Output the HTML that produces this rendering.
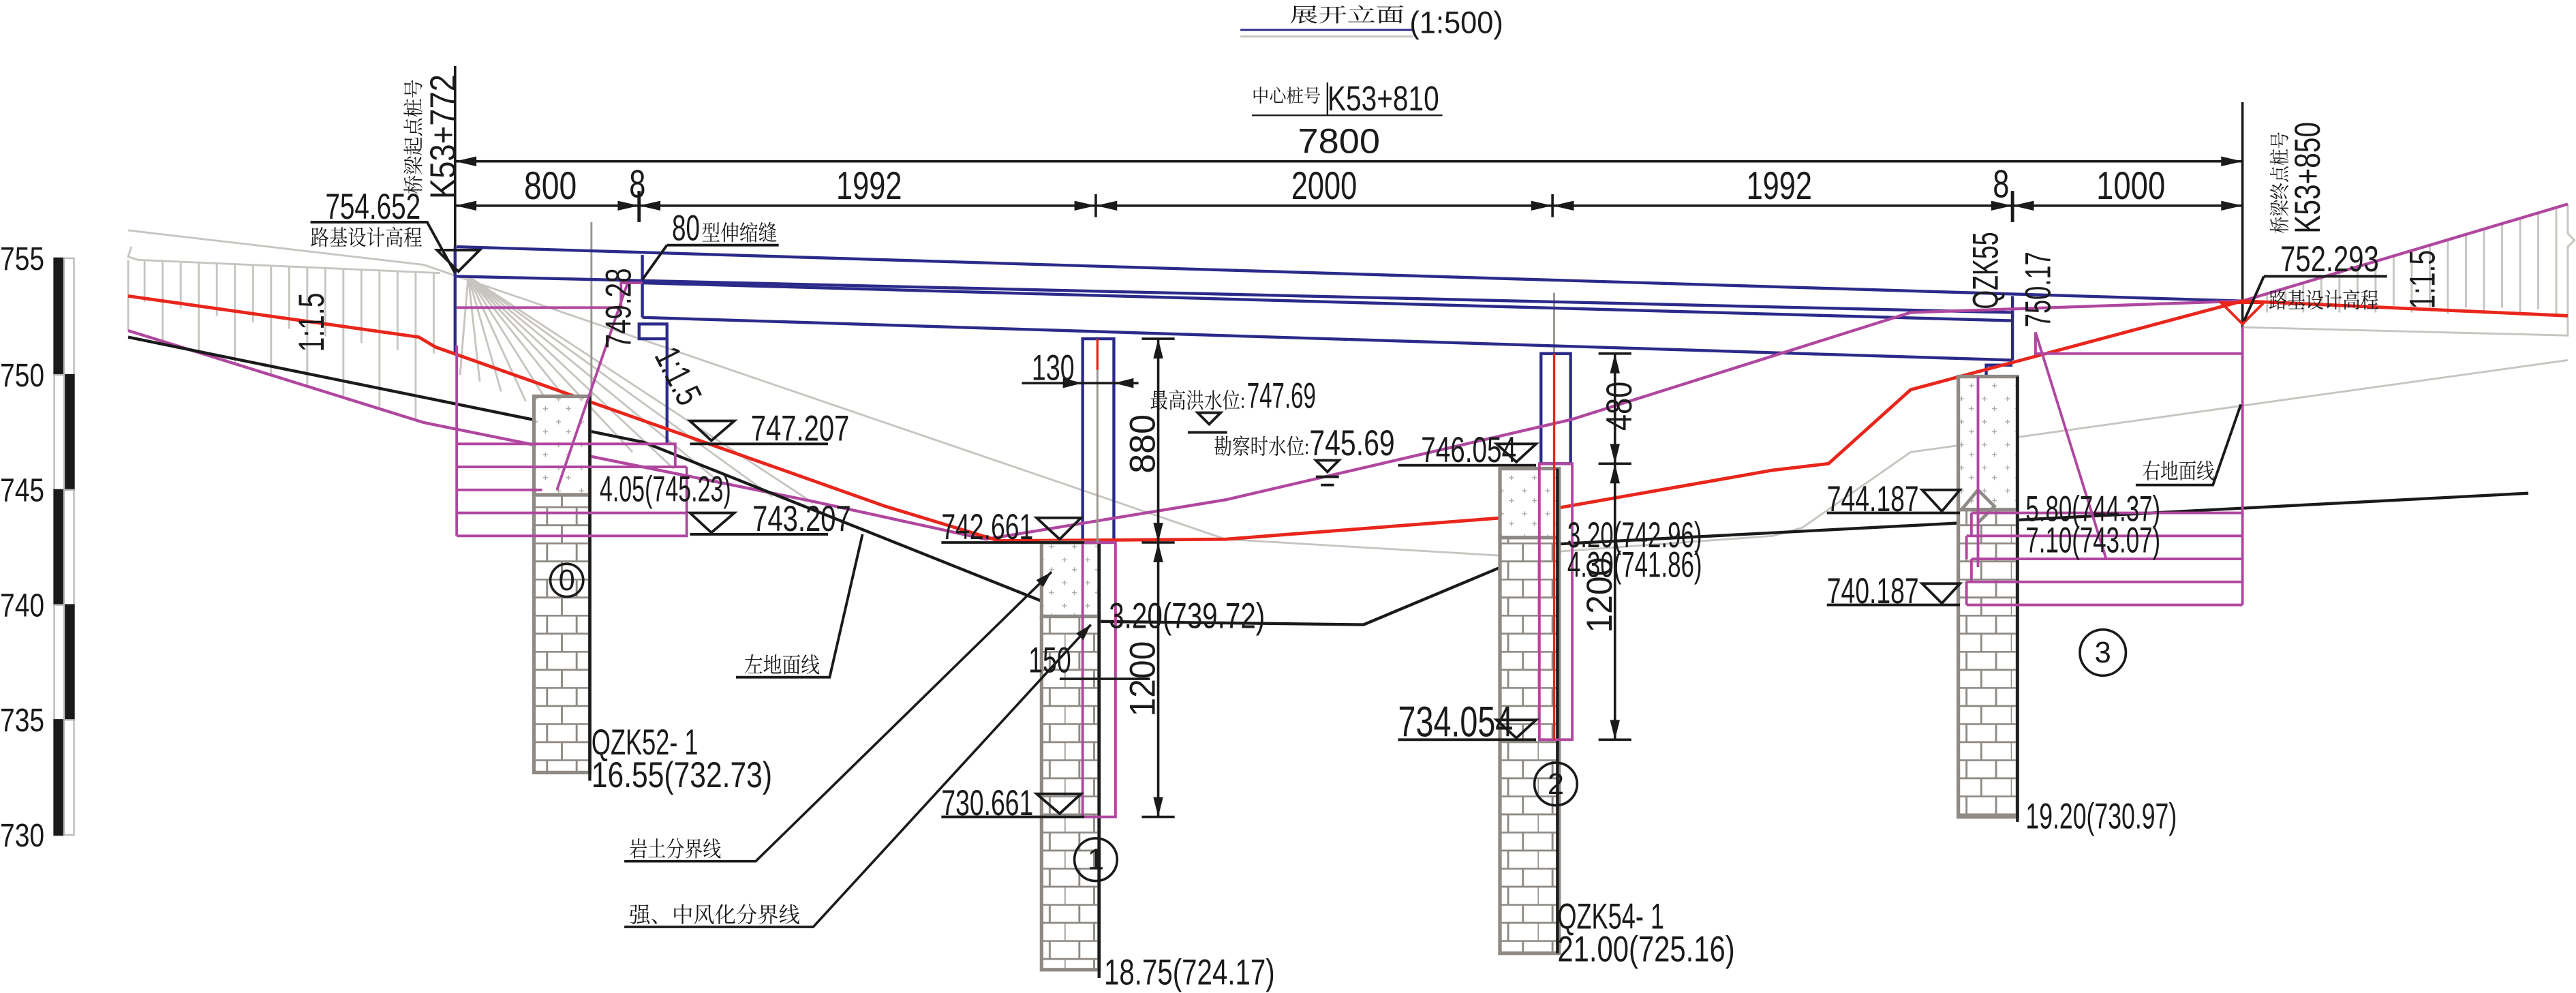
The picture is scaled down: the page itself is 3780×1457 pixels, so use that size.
<!DOCTYPE html>
<html><head><meta charset="utf-8"><style>
html,body{margin:0;padding:0;background:#fff;}
svg{display:block;}
text{font-family:"Liberation Sans","Noto Sans CJK SC",sans-serif;fill:#1a1a1a;}
.cn{font-family:"Liberation Serif","Noto Serif CJK SC",serif;}
</style></head><body>
<svg width="3780" height="1457" viewBox="0 0 1568 604" xmlns="http://www.w3.org/2000/svg">
<defs>
<pattern id="brick" x="0" y="0" width="36" height="22" patternUnits="userSpaceOnUse">
<rect width="36" height="22" fill="#fff"/>
<path d="M0 0.5H36M0 11.5H36M9 0V11M27 0V11M0 11V22M18 11V22" stroke="#8f8a85" stroke-width="1.2" fill="none"/>
</pattern>
<pattern id="grav" x="0" y="0" width="14" height="14" patternUnits="userSpaceOnUse">
<rect width="14" height="14" fill="#fff"/>
<path d="M4 3v3M2.5 4.5h3M10 9v3M8.5 10.5h3" stroke="#b0aaa5" stroke-width="0.6"/>
</pattern>
<marker id="ar" markerWidth="10" markerHeight="6" refX="10" refY="3" orient="auto" markerUnits="userSpaceOnUse"><path d="M0 0L10 3L0 6z" fill="#1a1a1a"/></marker>
</defs>

<!-- title -->
<text class="cn" x="785" y="13" font-size="12" textLength="70" lengthAdjust="spacingAndGlyphs">展开立面</text>
<line x1="755" y1="18" x2="860" y2="18" stroke="#2b2a8a" stroke-width="1.2"/>
<line x1="755" y1="22" x2="860" y2="22" stroke="#c8c5c0" stroke-width="1.2"/>
<text x="858" y="20" font-size="19" textLength="57" lengthAdjust="spacingAndGlyphs">(1:500)</text>

<text class="cn" x="762" y="62" font-size="11" textLength="42" lengthAdjust="spacingAndGlyphs">中心桩号</text>
<text x="808" y="67" font-size="21" textLength="68" lengthAdjust="spacingAndGlyphs">K53+810</text>
<line x1="762" y1="70" x2="878" y2="70" stroke="#1a1a1a" stroke-width="1"/>
<line x1="808" y1="50" x2="808" y2="70" stroke="#1a1a1a" stroke-width="1"/>
<text x="790" y="93" font-size="21" textLength="50" lengthAdjust="spacingAndGlyphs">7800</text>

<!-- scale bar -->
<g stroke="#1a1a1a">
<rect x="33" y="157" width="6" height="71" fill="#1a1a1a"/><rect x="39" y="157" width="6" height="71" fill="#fff" stroke="#bbb"/>
<rect x="39" y="228" width="6" height="70" fill="#1a1a1a"/><rect x="33" y="228" width="6" height="70" fill="#fff" stroke="#bbb"/>
<rect x="33" y="298" width="6" height="70" fill="#1a1a1a"/><rect x="39" y="298" width="6" height="70" fill="#fff" stroke="#bbb"/>
<rect x="39" y="368" width="6" height="70" fill="#1a1a1a"/><rect x="33" y="368" width="6" height="70" fill="#fff" stroke="#bbb"/>
<rect x="33" y="438" width="6" height="70" fill="#1a1a1a"/><rect x="39" y="438" width="6" height="70" fill="#fff" stroke="#bbb"/>
</g>
<g font-size="20">
<text x="0" y="164" textLength="27" lengthAdjust="spacingAndGlyphs">755</text>
<text x="0" y="235" textLength="27" lengthAdjust="spacingAndGlyphs">750</text>
<text x="0" y="305" textLength="27" lengthAdjust="spacingAndGlyphs">745</text>
<text x="0" y="375" textLength="27" lengthAdjust="spacingAndGlyphs">740</text>
<text x="0" y="445" textLength="27" lengthAdjust="spacingAndGlyphs">735</text>
<text x="0" y="515" textLength="27" lengthAdjust="spacingAndGlyphs">730</text>
</g>

<!-- dimension lines -->
<g stroke="#1a1a1a" stroke-width="1.5" fill="none">
<line x1="277" y1="40" x2="277" y2="168"/>
<line x1="1365" y1="62" x2="1365" y2="200"/>
<line x1="277" y1="98" x2="1365" y2="98"/>
<line x1="277" y1="125" x2="1365" y2="125"/>
<line x1="389" y1="116" x2="389" y2="135" stroke-width="2"/>
<line x1="667" y1="118" x2="667" y2="132"/>
<line x1="945" y1="118" x2="945" y2="132"/>
<line x1="1225" y1="116" x2="1225" y2="135" stroke-width="2"/>
</g>
<g fill="#1a1a1a">
<path d="M277 98l13-3v6z"/><path d="M1365 98l-13-3v6z"/>
<path d="M277 125l13-3v6z"/><path d="M389 125l-13-3v6z"/><path d="M389 125l13-3v6z"/>
<path d="M667 125l-13-3v6z"/><path d="M667 125l13-3v6z"/>
<path d="M945 125l-13-3v6z"/><path d="M945 125l13-3v6z"/>
<path d="M1225 125l-13-3v6z"/><path d="M1225 125l13-3v6z"/><path d="M1365 125l-13-3v6z"/>
</g>
<g font-size="24">
<text x="319" y="121" textLength="32" lengthAdjust="spacingAndGlyphs">800</text>
<text x="383" y="120" textLength="10" lengthAdjust="spacingAndGlyphs">8</text>
<text x="509" y="121" textLength="40" lengthAdjust="spacingAndGlyphs">1992</text>
<text x="786" y="121" textLength="40" lengthAdjust="spacingAndGlyphs">2000</text>
<text x="1063" y="121" textLength="40" lengthAdjust="spacingAndGlyphs">1992</text>
<text x="1213" y="120" textLength="10" lengthAdjust="spacingAndGlyphs">8</text>
<text x="1276" y="121" textLength="42" lengthAdjust="spacingAndGlyphs">1000</text>
</g>

<!-- stakes -->
<text transform="translate(277,121) rotate(-90)" font-size="22" textLength="76" lengthAdjust="spacingAndGlyphs">K53+772</text>
<text class="cn" transform="translate(256,118) rotate(-90)" font-size="12" textLength="70" lengthAdjust="spacingAndGlyphs">桥梁起点桩号</text>
<text transform="translate(1412,142) rotate(-90)" font-size="22" textLength="68" lengthAdjust="spacingAndGlyphs">K53+850</text>
<text class="cn" transform="translate(1392,142) rotate(-90)" font-size="12" textLength="62" lengthAdjust="spacingAndGlyphs">桥梁终点桩号</text>

<!-- hatch & grey -->
<g stroke="#c8c5c0" stroke-width="1.2" fill="none">
<polyline points="80,150 78,156 84,158 268,166"/>
<line x1="78" y1="158" x2="78" y2="201"/>
<path d="M88 158.4V183.5M99 158.9V207.5M110 159.3V187.6M121 159.8V214.4M132 160.3V192M143 160.7V221.2M154 161.2V196M165 161.7V228M176 162.1V200M187 162.6V234.9M198 163V204.5M209 163.5V241.7M220 164V208.6M231 164.4V248.6M242 164.9V212.8M253 165.4V255.4M264 165.8V215"/>
<path d="M285 168L280 228M285 168L292 232M285 168L305 238M285 168L320 244M285 168L338 252M285 168L360 262M285 168L385 275M285 168L410 285M285 168L440 295M285 168L470 302M285 168L495 306"/>
<path d="M1380 178.5V190M1391 175.3V186M1402 172V190M1413 168.7V186M1424 165.5V190M1435 162.2V186M1446 159V190M1457 155.7V186M1468 152.4V190M1479 149.1V187M1490 145.9V191M1501 142.6V187M1512 139.3V191M1523 136.1V187M1534 132.8V191M1545 129.5V188M1556 126.2V192"/>
<polyline points="1365,199 1563,204 1563,150 1567,146 1563,142 1563,124"/>
<polyline points="78,140 258,161 746,328 914,338 1079,326 1097,321 1163,275 1563,219"/>
<line x1="360" y1="135" x2="360" y2="241" stroke="#9a9590"/>
<line x1="946" y1="178" x2="946" y2="285" stroke="#9a9590"/>
</g>

<!-- deck -->
<g stroke="#2b2a8a" stroke-width="1.8" fill="none">
<line x1="278" y1="150" x2="1365" y2="183"/>
<line x1="278" y1="168" x2="1225" y2="190"/>
<line x1="391" y1="172" x2="1225" y2="195"/>
<line x1="391" y1="193" x2="1225" y2="219"/>
<line x1="391" y1="155" x2="391" y2="193"/>
<line x1="1225" y1="180" x2="1225" y2="219"/>
<line x1="277" y1="150" x2="277" y2="215"/>
<rect x="389" y="197" width="17" height="9"/>
<line x1="406" y1="206" x2="406" y2="270"/>
<rect x="659" y="206" width="19" height="124"/>
<rect x="938" y="215" width="18" height="67"/>
<polyline points="1209,229 1209,222 1225,222"/>
</g>

<!-- ground lines -->
<polyline fill="none" stroke="#b0479f" stroke-width="1.8" points="78,201 258,257 495,305 600,328 746,304 957,255 1163,190 1365,183 1563,124"/>
<polyline fill="none" stroke="#e8261c" stroke-width="2" points="78,180 255,205 265,211 539,308 608,329 746,328 914,315 1079,286 1113,282 1163,237 1365,183 1563,192"/>
<polyline fill="none" stroke="#1a1a1a" stroke-width="1.8" points="78,205 392,269 665,378 830,380 947,331 1539,300"/>

<!-- piles -->
<g stroke="#8f8a85" stroke-width="2.2">
<rect x="325" y="241" width="34" height="60" fill="url(#grav)"/>
<rect x="325" y="301" width="34" height="169" fill="url(#brick)"/>
<rect x="634" y="330" width="35" height="45" fill="url(#grav)"/>
<rect x="634" y="375" width="35" height="215" fill="url(#brick)"/>
<rect x="913" y="285" width="36" height="42" fill="url(#grav)"/>
<rect x="913" y="327" width="36" height="253" fill="url(#brick)"/>
<rect x="1192" y="229" width="36" height="81" fill="url(#grav)"/>
<rect x="1192" y="310" width="36" height="187" fill="url(#brick)"/>
</g>
<g stroke="#1a1a1a" stroke-width="1.8">
<line x1="359" y1="241" x2="359" y2="475"/>
<line x1="669" y1="330" x2="669" y2="595"/>
<line x1="948" y1="285" x2="948" y2="580"/>
<line x1="1228" y1="229" x2="1228" y2="500"/>
</g>
<path d="M1194 310l10-12 10 10-10 10" fill="none" stroke="#8f8a85" stroke-width="2"/>

<!-- magenta -->
<g stroke="#b0479f" stroke-width="1.6" fill="none">
<line x1="278" y1="210" x2="278" y2="326"/>
<path d="M278 187H378V172H391M278 270H411V284M278 284H418M278 298H330M278 312H418M278 326H418V284"/>
<line x1="339" y1="298" x2="382" y2="172"/>
<rect x="659" y="330" width="20" height="167"/>
<rect x="937" y="282" width="20" height="168"/>
<path d="M1365 199V368M1239 202V215H1365M1200 312H1365M1197 326H1365M1200 340H1365M1197 354H1365M1197 368H1365M1204 229V345M1200 312V326M1197 326V340M1200 340V354M1197 354V368"/>
<line x1="1239" y1="202" x2="1282" y2="340"/>
</g>
<g stroke="#e8261c" stroke-width="1.4">
<line x1="668" y1="206" x2="668" y2="225"/>
<line x1="946" y1="215" x2="946" y2="450"/>
</g>
<line x1="668" y1="225" x2="668" y2="330" stroke="#9a9590" stroke-width="1.2"/>
<path d="M1352 184H1378L1365 197z" fill="none" stroke="#e8261c" stroke-width="1.6"/>

<!-- pier dims -->
<g stroke="#1a1a1a" stroke-width="1.5">
<line x1="705" y1="206" x2="705" y2="497"/>
<path d="M695 206H715M695 330H715M695 497H715"/>
<line x1="983" y1="215" x2="983" y2="450"/>
<path d="M973 215H993M973 282H993M973 450H993"/>
<path d="M622 233H693M645 413H700"/>
</g>
<g fill="#1a1a1a">
<path d="M705 206l-3 12h6zM705 330l-3-12h6zM705 330l-3 12h6zM705 497l-3-12h6z"/>
<path d="M983 215l-3 12h6zM983 282l-3-12h6zM983 282l-3 12h6zM983 450l-3-12h6z"/>
<path d="M659 233l-12-3v6zM678 233l12-3v6z"/>
</g>
<g font-size="22">
<text transform="translate(703,288) rotate(-90)" textLength="36" lengthAdjust="spacingAndGlyphs">880</text>
<text transform="translate(703,436) rotate(-90)" textLength="46" lengthAdjust="spacingAndGlyphs">1200</text>
<text transform="translate(993,262) rotate(-90)" textLength="30" lengthAdjust="spacingAndGlyphs">480</text>
<text transform="translate(981,385) rotate(-90)" textLength="46" lengthAdjust="spacingAndGlyphs">1200</text>
<text x="628" y="231" textLength="26" lengthAdjust="spacingAndGlyphs">130</text>
<text x="626" y="409" textLength="26" lengthAdjust="spacingAndGlyphs">150</text>
</g>

<!-- elevation markers -->
<g stroke="#1a1a1a" stroke-width="1.6" fill="none">
<path d="M266 152H292L279 165z"/>
<path d="M189 135H260L277 166"/>
<path d="M420 256H447L433 268z"/><line x1="420" y1="270" x2="504" y2="270"/>
<path d="M420 312H447L433 324z"/><line x1="420" y1="325" x2="504" y2="325"/>
<path d="M631 315H658L645 328z"/><line x1="573" y1="330" x2="660" y2="330"/>
<path d="M631 483H658L645 495z"/><line x1="573" y1="497" x2="660" y2="497"/>
<path d="M911 270H935L923 281z"/><line x1="851" y1="283" x2="935" y2="283"/>
<path d="M911 438H935L923 449z"/><line x1="851" y1="450" x2="935" y2="450"/>
<path d="M1170 298H1193L1182 311z"/><line x1="1112" y1="312" x2="1193" y2="312"/>
<path d="M1170 355H1193L1182 367z"/><line x1="1112" y1="368" x2="1193" y2="368"/>
<path d="M729 251H743L736 258z"/><line x1="723" y1="263" x2="747" y2="263"/>
<path d="M801 280H815L808 287z"/><line x1="801" y1="290" x2="815" y2="290"/><line x1="804" y1="295" x2="812" y2="295"/>
<path d="M406 149H474M406 149L391 170"/>
<path d="M1378 168H1453M1378 168L1366 195"/>
<path d="M1300 295H1347L1364 246"/>
<path d="M448 412H505L525 325"/>
</g>
<g font-size="22">
<text x="198" y="133" textLength="58" lengthAdjust="spacingAndGlyphs">754.652</text>
<text x="1388" y="165" textLength="60" lengthAdjust="spacingAndGlyphs">752.293</text>
<text x="457" y="268" textLength="60" lengthAdjust="spacingAndGlyphs">747.207</text>
<text x="458" y="323" textLength="60" lengthAdjust="spacingAndGlyphs">743.207</text>
<text x="365" y="305" textLength="80" lengthAdjust="spacingAndGlyphs">4.05(745.23)</text>
<text x="573" y="328" textLength="56" lengthAdjust="spacingAndGlyphs">742.661</text>
<text x="573" y="496" textLength="56" lengthAdjust="spacingAndGlyphs">730.661</text>
<text x="865" y="281" textLength="58" lengthAdjust="spacingAndGlyphs">746.054</text>
<text x="851" y="448" font-size="26" textLength="70" lengthAdjust="spacingAndGlyphs">734.054</text>
<text x="1112" y="311" textLength="56" lengthAdjust="spacingAndGlyphs">744.187</text>
<text x="1112" y="367" textLength="56" lengthAdjust="spacingAndGlyphs">740.187</text>
<text x="675" y="382" textLength="95" lengthAdjust="spacingAndGlyphs">3.20(739.72)</text>
<text x="954" y="333" textLength="82" lengthAdjust="spacingAndGlyphs">3.20(742.96)</text>
<text x="954" y="351" textLength="82" lengthAdjust="spacingAndGlyphs">4.30(741.86)</text>
<text x="1233" y="317" textLength="82" lengthAdjust="spacingAndGlyphs">5.80(744.37)</text>
<text x="1233" y="336" textLength="82" lengthAdjust="spacingAndGlyphs">7.10(743.07)</text>
<text x="1233" y="504" textLength="92" lengthAdjust="spacingAndGlyphs">19.20(730.97)</text>
<text x="360" y="459" textLength="65" lengthAdjust="spacingAndGlyphs">QZK52- 1</text>
<text x="360" y="479" textLength="110" lengthAdjust="spacingAndGlyphs">16.55(732.73)</text>
<text x="948" y="565" textLength="65" lengthAdjust="spacingAndGlyphs">QZK54- 1</text>
<text x="948" y="585" textLength="108" lengthAdjust="spacingAndGlyphs">21.00(725.16)</text>
<text x="672" y="599" textLength="104" lengthAdjust="spacingAndGlyphs">18.75(724.17)</text>
<text x="409" y="146" textLength="17" lengthAdjust="spacingAndGlyphs">80</text>
<text x="759" y="248" textLength="42" lengthAdjust="spacingAndGlyphs">747.69</text>
<text x="797" y="277" textLength="52" lengthAdjust="spacingAndGlyphs">745.69</text>
</g>
<g font-size="22">
<text transform="translate(384,212) rotate(-90)" textLength="49" lengthAdjust="spacingAndGlyphs">749.28</text>
<text transform="translate(1216,188) rotate(-90)" textLength="47" lengthAdjust="spacingAndGlyphs">QZK55</text>
<text transform="translate(1248,199) rotate(-90)" textLength="46" lengthAdjust="spacingAndGlyphs">750.17</text>
<text transform="translate(197,214) rotate(-90)" textLength="36" lengthAdjust="spacingAndGlyphs">1:1.5</text>
<text transform="translate(1482,188) rotate(-90)" textLength="36" lengthAdjust="spacingAndGlyphs">1:1.5</text>
<text transform="translate(398,216) rotate(63)" textLength="36" lengthAdjust="spacingAndGlyphs">1:1.5</text>
</g>
<g font-size="13">
<text class="cn" x="189" y="149" textLength="68" lengthAdjust="spacingAndGlyphs">路基设计高程</text>
<text class="cn" x="1381" y="187" textLength="67" lengthAdjust="spacingAndGlyphs">路基设计高程</text>
<text class="cn" x="427" y="146" textLength="46" lengthAdjust="spacingAndGlyphs">型伸缩缝</text>
<text class="cn" x="700" y="248" textLength="58" lengthAdjust="spacingAndGlyphs">最高洪水位:</text>
<text class="cn" x="739" y="276" textLength="58" lengthAdjust="spacingAndGlyphs">勘察时水位:</text>
<text class="cn" x="1304" y="291" textLength="44" lengthAdjust="spacingAndGlyphs">右地面线</text>
<text class="cn" x="453" y="409" textLength="46" lengthAdjust="spacingAndGlyphs">左地面线</text>
<text class="cn" x="383" y="521" textLength="56" lengthAdjust="spacingAndGlyphs">岩土分界线</text>
<text class="cn" x="383" y="561" textLength="104" lengthAdjust="spacingAndGlyphs">强、中风化分界线</text>
</g>
<g stroke="#1a1a1a" stroke-width="1.5" fill="none">
<path d="M380 524H460L640 348" marker-end="url(#ar)"/>
<path d="M380 564H495L664 380" marker-end="url(#ar)"/>
<circle cx="345" cy="353" r="10"/>
<circle cx="667" cy="523" r="13"/>
<circle cx="947" cy="477" r="13"/>
<circle cx="1280" cy="397" r="14"/>
</g>
<g font-size="18">
<text x="340" y="359">0</text>
<text x="662" y="529">1</text>
<text x="942" y="483">2</text>
<text x="1275" y="403">3</text>
</g>
</svg>
</body></html>
